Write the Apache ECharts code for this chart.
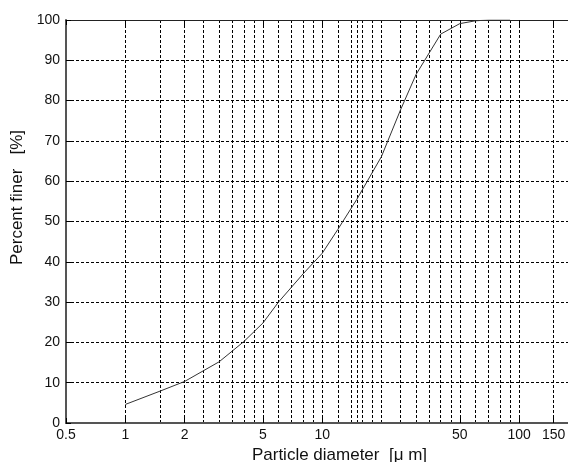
<!DOCTYPE html>
<html>
<head>
<meta charset="utf-8">
<script src="https://cdn.jsdelivr.net/npm/echarts@6/dist/echarts.min.js"></script>
<style>
  html, body { margin: 0; padding: 0; background: #fff; }
  #chart-container { width: 568px; height: 462px; }
</style>
</head>
<body>
<div id="chart-container"></div>
<script>
// particle size distribution
var diameters = [1, 1.5, 2, 3, 4, 5, 6, 8, 10, 12, 15, 20, 25, 30, 40, 50, 60, 70, 80, 90];
var percentFiner = [4.6, 7.9, 10.3, 15.2, 20.2, 24.8, 30.0, 37.0, 42.1, 48.0, 55.5, 66.1, 77.7, 86.5, 96.5, 99.1, 99.8, 100, 100, 100];

// x grid lines and labelled ticks
var gridTicks = [0.5, 1, 1.5, 2, 2.5, 3, 3.5, 4, 4.5, 5, 6, 7, 8, 9, 10, 12, 14, 15, 16, 18, 20, 25, 30, 35, 40, 45, 50, 60, 70, 80, 90, 100, 150];
var labelTicks = [0.5, 1, 2, 5, 10, 50, 100, 150];

// the axes run past the right edge of the picture
var xMin = 0.5;
var xMax = 300;

var font = 'Liberation Sans, Arial, sans-serif';
var dashed = { color: '#000', width: 1, type: [3, 2] };

var dom = document.getElementById('chart-container');
var myChart = echarts.init(dom, null, { renderer: 'canvas' });

var option = {
  animation: false,
  grid: { left: 66, right: -45, top: 20, bottom: 39, containLabel: false, outerBoundsMode: 'none' },
  xAxis: [
    {
      type: 'log',
      min: xMin,
      max: xMax,
      position: 'bottom',
      name: 'Particle diameter  [\u03bc m]',
      nameLocation: 'middle',
      nameGap: 20,
      nameTextStyle: { fontFamily: font, fontSize: 17, color: '#111' },
      axisLine: { show: true, lineStyle: { color: '#555', width: 2 } },
      axisTick: { show: false, customValues: gridTicks },
      axisLabel: {
        customValues: labelTicks,
        fontFamily: font, fontSize: 14, color: '#111', margin: 5,
        formatter: function (v) { return String(v); }
      },
      splitLine: { show: true, lineStyle: dashed }
    },
    {
      type: 'log',
      min: xMin,
      max: xMax,
      position: 'bottom',
      axisLine: { show: false },
      axisTick: { show: true, inside: true, length: 5, customValues: labelTicks, lineStyle: { color: '#000' } },
      axisLabel: { show: false },
      splitLine: { show: false }
    },
    {
      type: 'log',
      min: xMin,
      max: xMax,
      position: 'top',
      axisLine: { show: true, lineStyle: { color: '#222', width: 1 } },
      axisTick: { show: true, inside: true, length: 5, customValues: labelTicks, lineStyle: { color: '#000' } },
      axisLabel: { show: false },
      splitLine: { show: false }
    }
  ],
  yAxis: {
    type: 'value',
    min: 0,
    max: 100,
    interval: 10,
    name: 'Percent finer   [%]',
    nameLocation: 'middle',
    nameGap: 40,
    nameTextStyle: { fontFamily: font, fontSize: 17, color: '#111', padding: [0, 0, 0, 48] },
    axisLine: { show: true, lineStyle: { color: '#555', width: 2 } },
    axisTick: { show: true, inside: true, length: 5, lineStyle: { color: '#000' } },
    axisLabel: { fontFamily: font, fontSize: 14, color: '#111', margin: 6 },
    splitLine: { show: true, lineStyle: dashed }
  },
  series: [
    {
      type: 'line',
      xAxisIndex: 0,
      data: diameters.map(function (d, i) { return [d, percentFiner[i]]; }),
      showSymbol: false,
      lineStyle: { color: '#333', width: 1 },
      z: 5
    }
  ]
};

myChart.setOption(option);
window.addEventListener('resize', myChart.resize);
</script>
</body>
</html>
